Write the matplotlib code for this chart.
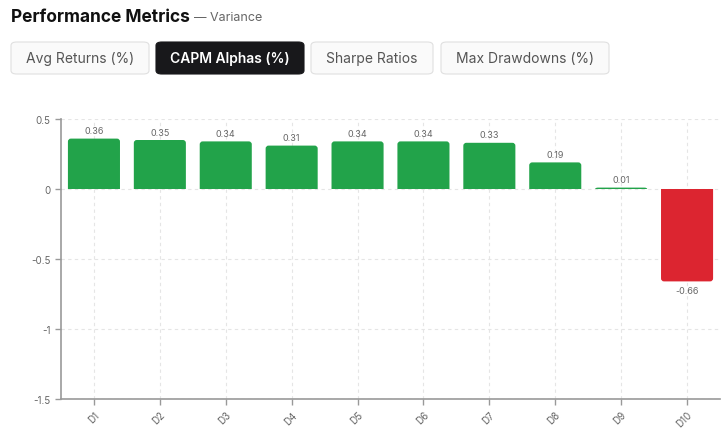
import numpy as np
import matplotlib.pyplot as plt
from matplotlib.patches import FancyBboxPatch, PathPatch
from matplotlib.path import Path

plt.rcParams['font.family'] = ['Inter', 'DejaVu Sans']

deciles = ['D1', 'D2', 'D3', 'D4', 'D5', 'D6', 'D7', 'D8', 'D9', 'D10']
alphas = [0.36, 0.35, 0.34, 0.31, 0.34, 0.34, 0.33, 0.19, 0.01, -0.66]
tabs = ['Avg Returns (%)', 'CAPM Alphas (%)', 'Sharpe Ratios', 'Max Drawdowns (%)']
active_tab = 1

W, H = 721, 435
fig = plt.figure(figsize=(W / 100, H / 100), dpi=100)

def fx(px):
    return px / W

def fy(py):
    return 1 - py / H

# header
fig.text(fx(11), fy(17), 'Performance Metrics', fontsize=12.5, fontweight='bold',
         color='#111111', va='center', ha='left')
fig.text(fx(194), fy(18), '— Variance', fontsize=9, color='#666666', va='center', ha='left')

# tab buttons
tab_x = [(11, 149), (156, 304), (311, 433), (441, 609)]
for i, (label, (x0, x1)) in enumerate(zip(tabs, tab_x)):
    active = i == active_tab
    box = FancyBboxPatch((fx(x0), fy(75)), fx(x1 - x0), (75 - 43) / H,
                         boxstyle='round,pad=0,rounding_size=0.008',
                         transform=fig.transFigure,
                         facecolor='#18181b' if active else '#fafafa',
                         edgecolor='#18181b' if active else '#e0e0e0', linewidth=0.8)
    fig.add_artist(box)
    fig.text(fx((x0 + x1) / 2), fy(59), label, fontsize=10,
             fontweight='semibold' if active else 'normal',
             color='white' if active else '#555555', ha='center', va='center')

ax = fig.add_axes([fx(61), fy(400), fx(720 - 61), (400 - 120) / H])

ax.set_xlim(-0.5, len(deciles) - 0.5)
ax.set_ylim(-1.5, 0.5)

x = np.arange(len(deciles))
colors = ['#22a34a' if v >= 0 else '#dc2530' for v in alphas]
bw = 0.79

# bars with rounded corners on the value end (radius ~3px)
rx = 3 / (659 / len(deciles))
ry_full = 3 / (280 / 2.0)
for xi, v, c in zip(x, alphas, colors):
    x0, x1 = xi - bw / 2, xi + bw / 2
    s = 1 if v >= 0 else -1
    ry = min(ry_full, abs(v))
    verts = [(x0, 0), (x0, v - s * ry), (x0, v), (x0 + rx, v),
             (x1 - rx, v), (x1, v), (x1, v - s * ry), (x1, 0), (x0, 0)]
    codes = [Path.MOVETO, Path.LINETO, Path.CURVE3, Path.CURVE3,
             Path.LINETO, Path.CURVE3, Path.CURVE3, Path.LINETO, Path.CLOSEPOLY]
    ax.add_patch(PathPatch(Path(verts, codes), facecolor=c, edgecolor='none', zorder=3))

for xi, v in zip(x, alphas):
    if v >= 0:
        ax.text(xi, v + 0.025, f'{v:.2f}', ha='center', va='bottom', fontsize=6.5, color='#666666')
    else:
        ax.text(xi, v - 0.03, f'{v:.2f}', ha='center', va='top', fontsize=6.5, color='#666666')

ax.set_yticks([0.5, 0, -0.5, -1, -1.5])
ax.set_yticklabels(['0.5', '0', '-0.5', '-1', '-1.5'])
ax.set_xticks(x)
ax.set_xticklabels(deciles, rotation=45, ha='right', rotation_mode='anchor')

ax.grid(True, color='#e5e5e5', linestyle=(0, (3, 3)), linewidth=0.8, zorder=0)
for s in ['top', 'right']:
    ax.spines[s].set_visible(False)
for s in ['left', 'bottom']:
    ax.spines[s].set_color('#999999')
    ax.spines[s].set_linewidth(1.2)
ax.tick_params(axis='both', colors='#999999', labelcolor='#666666', labelsize=7, length=4, width=1)

fig.savefig('out.png', dpi=100)
